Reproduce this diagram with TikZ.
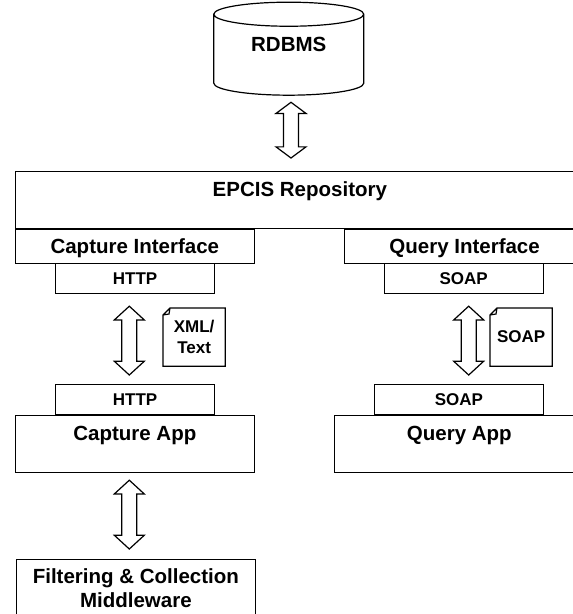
\documentclass[tikz,border=0pt]{standalone}
\usepackage{fontspec}
\setmainfont{Liberation Sans}
\usetikzlibrary{calc,shapes.geometric}

\begin{document}
\begin{tikzpicture}[y=-1pt,x=1pt,line width=1.2pt,
	bigbox/.style={draw,inner sep=0pt,anchor=north west,font=\fontsize{20.5}{23.5}\selectfont\bfseries},
	smallbox/.style={draw,inner sep=0pt,anchor=north west,minimum width=159pt,font=\fontsize{17}{20}\selectfont\bfseries},
	dbshape/.style={draw,cylinder,shape border rotate=90,shape aspect=0.32,minimum width=150pt,minimum height=93pt,inner sep=0pt,text depth=22pt,font=\fontsize{20.5}{23.5}\selectfont\bfseries},
	pagenote/.style={inner sep=0pt,minimum width=61pt,minimum height=57pt,anchor=north west,align=center,font=\fontsize{17}{20.7}\selectfont\bfseries,
		append after command={
			([xshift=7pt]\tikzlastnode.north west) -- (\tikzlastnode.north east) -- (\tikzlastnode.south east) -- (\tikzlastnode.south west) -- ([yshift=-7pt]\tikzlastnode.north west) -- cycle
			([xshift=7pt]\tikzlastnode.north west) -- ([xshift=6pt,yshift=-6pt]\tikzlastnode.north west) -- ([yshift=-7pt]\tikzlastnode.north west)
		}},
	dblarrow/.style n args={3}{to path={
		let \p1=(\tikztostart.south), \p2=(\tikztotarget.north), \n1={(\y1-\y2-#2pt-#3pt)*0.2} in
		(#1pt,\y1-#2pt) -- (#1pt+15pt,\y1-#2pt-\n1) -- (#1pt+7.5pt,\y1-#2pt-\n1)
		-- (#1pt+7.5pt,\y2+#3pt+\n1) -- (#1pt+15pt,\y2+#3pt+\n1) -- (#1pt,\y2+#3pt)
		-- (#1pt-15pt,\y2+#3pt+\n1) -- (#1pt-7.5pt,\y2+#3pt+\n1)
		-- (#1pt-7.5pt,\y1-#2pt-\n1) -- (#1pt-15pt,\y1-#2pt-\n1) -- cycle
	}}]
	\clip (0,0) rectangle (573,614);

	\node[dbshape] (rdbms) at (288.75,55) {RDBMS};

	\node[bigbox,minimum width=569.5pt,text height=25pt,text depth=32pt] (repo) at (14.5,171) {EPCIS Repository};

	\node[bigbox,minimum width=239.5pt,text height=24pt,text depth=9.5pt] (capif) at (14.5,229) {Capture Interface};
	\node[bigbox,minimum width=240pt,text height=24pt,text depth=9.5pt] (queryif) at (344,229) {Query Interface};

	\node[smallbox,text height=21pt,text depth=9pt] (httpif) at (55,263) {HTTP};
	\node[smallbox,text height=21pt,text depth=9pt] (soapif) at (383.5,263) {SOAP};

	\draw (163,308) node[pagenote] (xmldoc) {XML/\\Text};
	\draw (490,308) node[pagenote] (soapdoc) {SOAP};

	\node[smallbox,text height=21pt,text depth=9pt] (httpapp) at (55,384) {HTTP};
	\node[smallbox,minimum width=169.5pt,text height=21pt,text depth=9pt] (soapapp) at (373.5,384) {SOAP};

	\node[bigbox,minimum width=239.5pt,text height=25.5pt,text depth=32pt] (capapp) at (14.5,414.5) {Capture App};
	\node[bigbox,minimum width=250.5pt,text height=25.5pt,text depth=32pt] (queryapp) at (333.5,414.5) {Query App};

	\node[bigbox,minimum width=239.5pt,align=center,text height=47.5pt,text depth=22pt] (mware) at (15.5,559) {Filtering \& Collection\\Middleware};

	\draw[dblarrow={291}{6.5}{13}] (rdbms) to (repo);
	\draw[dblarrow={129.3}{12}{9}] (httpif) to (httpapp);
	\draw[dblarrow={468.7}{12}{9}] (soapif) to (soapapp);
	\draw[dblarrow={129.3}{7}{10}] (capapp) to (mware);
\end{tikzpicture}
\end{document}
